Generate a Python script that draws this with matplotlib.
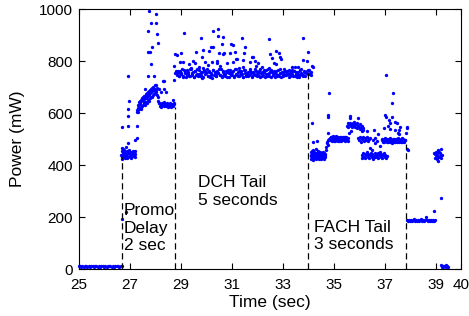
import numpy as np
import matplotlib
matplotlib.use("Agg")
import matplotlib.pyplot as plt

plt.rcParams['font.family'] = ['Liberation Sans', 'DejaVu Sans']

# Power trace, (time sec, power mW) per phase
idle = [(25.00, 10), (25.05, 12), (25.10, 8), (25.15, 11), (25.20, 9), (25.25, 13), (25.30, 10),
        (25.35, 8), (25.40, 12), (25.45, 9), (25.50, 11), (25.55, 13), (25.60, 8), (25.65, 10),
        (25.70, 12), (25.75, 9), (25.80, 11), (25.85, 8), (25.90, 13), (25.95, 10), (26.00, 9),
        (26.05, 12), (26.10, 8), (26.15, 11), (26.20, 10), (26.25, 13), (26.30, 9), (26.35, 12),
        (26.40, 8), (26.45, 11), (26.50, 10), (26.55, 13), (26.60, 9), (26.65, 12), (26.70, 10)]

promo = [(26.72, 192), (26.87, 220),
         (26.68, 440), (26.70, 455), (26.72, 430), (26.74, 448), (26.76, 462), (26.78, 438),
         (26.80, 450), (26.82, 428), (26.84, 445), (26.86, 470), (26.88, 435), (26.90, 452),
         (26.92, 441), (26.94, 432), (26.96, 447), (26.98, 458), (27.00, 436), (27.02, 444),
         (27.04, 430), (27.06, 450), (27.08, 438), (27.10, 446), (27.12, 434), (27.14, 455),
         (27.16, 440), (27.18, 448), (27.20, 432), (27.22, 443), (26.71, 425), (26.75, 436),
         (26.79, 458), (26.83, 440), (26.91, 428), (26.99, 445), (27.07, 427), (27.15, 433),
         (27.21, 452), (26.69, 465),
         (26.72, 545), (26.95, 551), (26.96, 588), (26.96, 615), (26.98, 646), (26.96, 742),
         (27.29, 550), (27.28, 502), (27.23, 496), (26.94, 483),
         (27.30, 602), (27.32, 632), (27.34, 619), (27.36, 644), (27.38, 616), (27.40, 634),
         (27.42, 647), (27.44, 614), (27.46, 650), (27.48, 628), (27.50, 656), (27.52, 630),
         (27.54, 660), (27.56, 638), (27.58, 664), (27.60, 632), (27.62, 667), (27.64, 644),
         (27.66, 672), (27.68, 640), (27.70, 676), (27.72, 650), (27.74, 680), (27.76, 648),
         (27.78, 684), (27.80, 656), (27.82, 690), (27.84, 660), (27.86, 694), (27.88, 662),
         (27.90, 698), (27.92, 668), (27.94, 700), (27.96, 672), (27.98, 706), (28.00, 676),
         (28.02, 708), (28.04, 680), (28.06, 698),
         (27.31, 612), (27.35, 603), (27.39, 625), (27.43, 638), (27.47, 620), (27.51, 645),
         (27.55, 652), (27.59, 642), (27.63, 657), (27.67, 662), (27.71, 668), (27.75, 670),
         (27.79, 676), (27.83, 680), (27.87, 684), (27.91, 688), (27.95, 690), (27.99, 694),
         (28.03, 690), (28.08, 670), (28.10, 660), (28.12, 648), (28.14, 640),
         (28.16, 640), (28.19, 628), (28.22, 636), (28.25, 625), (28.28, 638), (28.31, 630),
         (28.34, 642), (28.37, 626), (28.40, 634), (28.43, 628), (28.46, 640), (28.49, 624),
         (28.52, 632), (28.55, 626), (28.58, 638), (28.61, 630), (28.64, 622), (28.67, 634),
         (28.70, 628), (28.73, 640), (28.76, 636), (28.72, 650),
         (27.74, 917), (27.78, 993), (28.03, 979), (27.85, 945), (28.05, 945), (28.07, 902),
         (28.13, 870), (27.74, 833), (27.82, 833), (27.88, 855), (27.84, 787), (27.74, 742),
         (27.95, 742), (28.33, 722), (28.36, 723), (28.16, 691), (27.60, 691), (28.37, 691),
         (28.43, 682), (28.22, 680),
         (28.78, 827), (28.85, 823), (28.76, 781), (28.78, 755), (28.84, 760), (28.73, 727)]

dch_band = [(28.86, 748), (28.91, 760), (28.96, 741), (29.01, 755), (29.06, 768), (29.11, 744),
            (29.16, 757), (29.21, 738), (29.26, 764), (29.31, 750), (29.36, 743), (29.41, 769),
            (29.46, 753), (29.51, 740), (29.56, 761), (29.61, 746), (29.66, 771), (29.71, 751),
            (29.76, 742), (29.81, 758), (29.86, 736), (29.91, 765), (29.96, 749), (30.01, 756),
            (30.06, 744), (30.11, 762), (30.16, 739), (30.21, 752), (30.26, 767), (30.31, 745),
            (30.36, 759), (30.41, 741), (30.46, 754), (30.51, 770), (30.56, 747), (30.61, 738),
            (30.66, 763), (30.71, 750), (30.76, 744), (30.81, 757), (30.86, 766), (30.91, 740),
            (30.96, 753), (31.01, 748), (31.06, 761), (31.11, 737), (31.16, 769), (31.21, 745),
            (31.26, 756), (31.31, 742), (31.36, 760), (31.41, 751), (31.46, 739), (31.51, 764),
            (31.56, 747), (31.61, 755), (31.66, 743), (31.71, 768), (31.76, 752), (31.81, 740),
            (31.86, 758), (31.91, 746), (31.96, 763), (32.01, 749), (32.06, 741), (32.11, 771),
            (32.16, 754), (32.21, 744), (32.26, 759), (32.31, 738), (32.36, 765), (32.41, 750),
            (32.46, 742), (32.51, 757), (32.56, 767), (32.61, 745), (32.66, 753), (32.71, 739),
            (32.76, 761), (32.81, 748), (32.86, 744), (32.91, 770), (32.96, 752), (33.01, 741),
            (33.06, 758), (33.11, 746), (33.16, 763), (33.21, 749), (33.26, 737), (33.31, 755),
            (33.36, 766), (33.41, 743), (33.46, 760), (33.51, 751), (33.56, 740), (33.61, 756),
            (33.66, 745), (33.71, 768), (33.76, 747), (33.81, 742), (33.86, 759), (33.91, 753),
            (33.96, 762), (34.01, 764), (34.06, 750), (34.11, 758)]

dch_band2 = [(28.885, 755), (28.935, 743), (28.985, 762), (29.035, 749), (29.085, 738),
             (29.135, 766), (29.185, 752), (29.235, 745), (29.285, 759), (29.335, 741),
             (29.385, 770), (29.435, 748), (29.485, 756), (29.535, 739), (29.585, 763),
             (29.635, 751), (29.685, 744), (29.735, 767), (29.785, 746), (29.835, 758),
             (29.885, 740), (29.935, 761), (29.985, 753), (30.035, 769), (30.085, 742),
             (30.135, 757), (30.185, 748), (30.235, 735), (30.285, 764), (30.335, 750),
             (30.385, 743), (30.435, 760), (30.485, 754), (30.535, 746), (30.585, 768),
             (30.635, 741), (30.685, 757), (30.735, 749), (30.785, 762), (30.835, 738),
             (30.885, 753), (30.935, 765), (30.985, 745), (31.035, 758), (31.085, 742),
             (31.135, 770), (31.185, 750), (31.235, 744), (31.285, 761), (31.335, 747),
             (31.385, 755), (31.435, 739), (31.485, 766), (31.535, 752), (31.585, 743),
             (31.635, 759), (31.685, 748), (31.735, 763), (31.785, 741), (31.835, 756),
             (31.885, 749), (31.935, 768), (31.985, 744), (32.035, 753), (32.085, 760),
             (32.135, 738), (32.185, 757), (32.235, 746), (32.285, 764), (32.335, 751),
             (32.385, 742), (32.435, 769), (32.485, 755), (32.535, 740), (32.585, 758),
             (32.635, 747), (32.685, 762), (32.735, 750), (32.785, 743), (32.835, 766),
             (32.885, 754), (32.935, 739), (32.985, 759), (33.035, 748), (33.085, 761),
             (33.135, 745), (33.185, 752), (33.235, 767), (33.285, 741), (33.335, 756),
             (33.385, 749), (33.435, 763), (33.485, 744), (33.535, 758), (33.585, 751),
             (33.635, 740), (33.685, 765), (33.735, 753), (33.785, 746), (33.835, 760),
             (33.885, 742), (33.935, 757), (33.985, 749), (34.035, 764), (34.085, 752),
             (34.135, 747)]

dch_spikes = [(29.15, 906), (30.26, 915), (30.48, 922), (30.46, 896), (30.68, 892), (29.80, 890),
              (31.40, 887), (32.47, 883), (33.82, 887), (30.26, 855), (30.64, 864), (30.98, 865),
              (31.06, 862), (31.53, 855), (29.89, 842), (30.72, 830), (32.51, 827), (32.75, 838),
              (32.86, 830), (33.99, 836), (29.02, 830), (29.60, 833), (29.84, 817), (30.12, 838),
              (31.46, 804), (31.16, 806), (31.85, 814), (31.92, 800), (32.03, 794), (32.90, 814),
              (32.58, 810), (33.82, 804), (33.95, 800), (29.50, 800), (29.33, 787), (30.42, 800),
              (30.22, 797), (31.07, 797), (28.98, 796), (33.36, 778), (30.51, 830), (30.66, 826),
              (30.95, 830), (31.12, 833), (31.50, 830), (30.20, 855), (29.11, 797), (29.55, 791),
              (29.72, 778), (29.96, 797), (30.09, 785), (30.42, 794), (30.82, 794), (31.22, 806),
              (31.46, 778), (29.40, 772), (31.80, 817), (31.71, 796), (31.97, 781), (32.67, 794),
              (32.94, 806), (33.48, 778), (32.47, 772), (33.05, 770), (29.90, 775), (30.55, 780),
              (31.30, 775), (32.20, 776), (32.75, 790), (33.60, 776), (34.15, 781), (34.21, 778)]

fach_burst = [(34.10, 440), (34.12, 425), (34.14, 452), (34.16, 432), (34.18, 446), (34.20, 421),
              (34.22, 438), (34.24, 450), (34.26, 429), (34.28, 443), (34.30, 433), (34.32, 447),
              (34.34, 426), (34.36, 440), (34.38, 452), (34.40, 431), (34.42, 444), (34.44, 428),
              (34.46, 437), (34.48, 446), (34.50, 425), (34.52, 439), (34.54, 432), (34.56, 445),
              (34.58, 427), (34.60, 441), (34.62, 434), (34.64, 448), (34.66, 430), (34.68, 442),
              (34.11, 433), (34.15, 444), (34.19, 430), (34.23, 428), (34.27, 447), (34.31, 424),
              (34.35, 436), (34.39, 441), (34.43, 423), (34.47, 450), (34.51, 434), (34.55, 427),
              (34.59, 449), (34.63, 425), (34.67, 437),
              (34.70, 458), (34.72, 470), (34.74, 483), (34.76, 490), (34.78, 478), (34.80, 495),
              (34.82, 500),
              (34.15, 560), (34.34, 492), (34.19, 490), (34.80, 583), (34.80, 592), (34.78, 522),
              (34.33, 460), (34.18, 458), (34.12, 451), (34.84, 678),
              (34.86, 502), (34.89, 495), (34.92, 508), (34.95, 498), (34.98, 505), (35.01, 493),
              (35.04, 502), (35.07, 509), (35.10, 497), (35.13, 504), (35.16, 494), (35.19, 506),
              (35.22, 499), (35.25, 503), (35.28, 492), (35.31, 507), (35.34, 498), (35.37, 504),
              (35.40, 495), (35.43, 501), (35.46, 509), (35.49, 497), (35.52, 503), (35.55, 494),
              (34.875, 497), (34.905, 506), (34.935, 492), (34.965, 510), (34.995, 500),
              (35.025, 507), (35.055, 494), (35.085, 503), (35.115, 510), (35.145, 498),
              (35.175, 505), (35.205, 492), (35.235, 508), (35.265, 500), (35.295, 503),
              (35.325, 495), (35.355, 509), (35.385, 499), (35.415, 506), (35.445, 493),
              (35.475, 502), (35.505, 508), (35.535, 497), (35.565, 505),
              (35.52, 550), (35.55, 560), (35.58, 547), (35.61, 556), (35.64, 563), (35.67, 549),
              (35.70, 558), (35.73, 545), (35.76, 561), (35.79, 552), (35.82, 564), (35.85, 548),
              (35.88, 557), (35.91, 543), (35.94, 560), (35.97, 551), (36.00, 545), (36.04, 556),
              (36.08, 541), (36.12, 549), (36.16, 543),
              (35.65, 590), (35.65, 580), (35.97, 582), (35.62, 525), (35.70, 530), (36.05, 538),
              (36.10, 531), (36.15, 535),
              (35.95, 505), (35.99, 495), (36.03, 508), (36.07, 490), (36.11, 500), (36.15, 506),
              (36.19, 494), (36.23, 502), (36.27, 497), (36.31, 508), (36.35, 491), (36.39, 500),
              (36.43, 505), (36.55, 496), (36.62, 503), (36.70, 492),
              (36.10, 440), (36.13, 428), (36.16, 447), (36.19, 432), (36.22, 443), (36.25, 426),
              (36.28, 438), (36.31, 450), (36.34, 430), (36.37, 444), (36.40, 427), (36.43, 439),
              (36.46, 448), (36.49, 431), (36.52, 442), (36.55, 425), (36.58, 436), (36.61, 447),
              (36.64, 429), (36.67, 440), (36.70, 432), (36.73, 446), (36.76, 427), (36.79, 438),
              (36.82, 449), (36.85, 430), (36.88, 441), (36.91, 426), (36.94, 437), (36.97, 445),
              (37.00, 431), (37.03, 440), (37.06, 428), (37.09, 435),
              (36.30, 532), (36.60, 535), (36.76, 519), (36.63, 483), (36.82, 473), (36.43, 464),
              (36.49, 458), (36.99, 541),
              (36.89, 495), (36.93, 488), (36.97, 500), (37.01, 492), (37.05, 498), (37.09, 487),
              (37.13, 496), (37.17, 501), (37.21, 490), (37.25, 497), (37.29, 486), (37.33, 499),
              (37.37, 493), (37.41, 488), (37.45, 500), (37.49, 491), (37.53, 497), (37.57, 487),
              (37.61, 495), (37.65, 500), (37.69, 489), (37.73, 496), (37.77, 492), (37.80, 498),
              (36.91, 501), (36.95, 492), (36.99, 489), (37.03, 502), (37.07, 494), (37.11, 499),
              (37.15, 488), (37.19, 495), (37.23, 502), (37.27, 491), (37.31, 497), (37.35, 487),
              (37.39, 500), (37.43, 494), (37.47, 489), (37.51, 502), (37.55, 493), (37.59, 498),
              (37.63, 488), (37.67, 496), (37.71, 501), (37.75, 490), (37.79, 495),
              (37.05, 746), (37.35, 676), (37.31, 640), (37.02, 592), (37.05, 584), (37.28, 586),
              (37.19, 573), (37.22, 563), (37.41, 567), (37.48, 563), (37.15, 550), (37.22, 537),
              (37.41, 535), (37.52, 522), (37.55, 519), (37.67, 505), (37.87, 547), (37.88, 541),
              (37.84, 524), (37.91, 458), (37.58, 535), (37.60, 547), (37.87, 460)]

fach_idle = [(37.87, 188), (37.91, 185), (37.95, 190), (37.99, 186), (38.03, 189), (38.07, 184),
             (38.11, 188), (38.15, 191), (38.19, 185), (38.23, 189), (38.27, 186), (38.31, 190),
             (38.35, 184), (38.39, 188), (38.43, 191), (38.47, 186), (38.51, 189), (38.55, 185),
             (38.59, 190), (38.63, 199), (38.67, 187), (38.71, 184), (38.75, 189), (38.79, 186),
             (38.83, 190), (38.87, 185), (38.91, 188), (38.95, 186), (38.98, 189),
             (38.95, 224), (39.20, 272)]

last_burst = [(38.95, 447), (38.98, 442), (39.02, 451), (39.05, 438), (39.07, 432), (39.11, 458),
              (39.15, 451), (39.18, 435), (39.20, 426), (39.05, 422), (38.98, 426), (39.07, 445),
              (39.13, 430), (39.18, 447), (39.24, 438), (39.02, 432), (39.11, 417), (39.22, 460)]

tail_idle = [(39.22, 15), (39.25, 9), (39.28, 13), (39.31, 8), (39.34, 12), (39.37, 10),
             (39.40, 14), (39.43, 8), (39.46, 11), (39.49, 9)]

# dashed phase boundaries: time and how high they reach
bound_t = [26.72, 28.80, 34.00, 37.84]
bound_top = [430, 625, 755, 480]

fig = plt.figure(figsize=(4.69, 3.16), dpi=100)
ax = fig.add_axes([0.1674, 0.1487, 0.8156, 0.8228])

for seg in [idle, promo, dch_band, dch_band2, dch_spikes, fach_burst, fach_idle, last_burst, tail_idle]:
    t, p = zip(*seg)
    ax.plot(t, p, 'o', color='#0000ff', ms=2.4, mew=0, clip_on=False)

for x, top in zip(bound_t, bound_top):
    ax.plot([x, x], [0, top], color='k', lw=0.9, dashes=(5, 3))

ax.text(26.77, 73, 'Promo\nDelay\n2 sec', fontsize=12.5, va='baseline', ha='left')
ax.text(29.69, 248, 'DCH Tail\n5 seconds', fontsize=12.5, va='baseline', ha='left')
ax.text(34.25, 76, 'FACH Tail\n3 seconds', fontsize=12.5, va='baseline', ha='left')

ax.set_xlim(25, 40)
ax.set_ylim(0, 1000)
ax.set_xticks([25, 27, 29, 31, 33, 35, 37, 39, 40])
ax.set_yticks([0, 200, 400, 600, 800, 1000])
ax.tick_params(direction='in', top=True, right=True, labelsize=11, length=4)
ax.tick_params(axis='x', pad=6.5)
ax.tick_params(axis='y', pad=4)
ax.set_xlabel('Time (sec)', fontsize=12.5, labelpad=2)
ax.set_ylabel('Power (mW)', fontsize=12.5, labelpad=10)

fig.savefig('out.png', dpi=100)
